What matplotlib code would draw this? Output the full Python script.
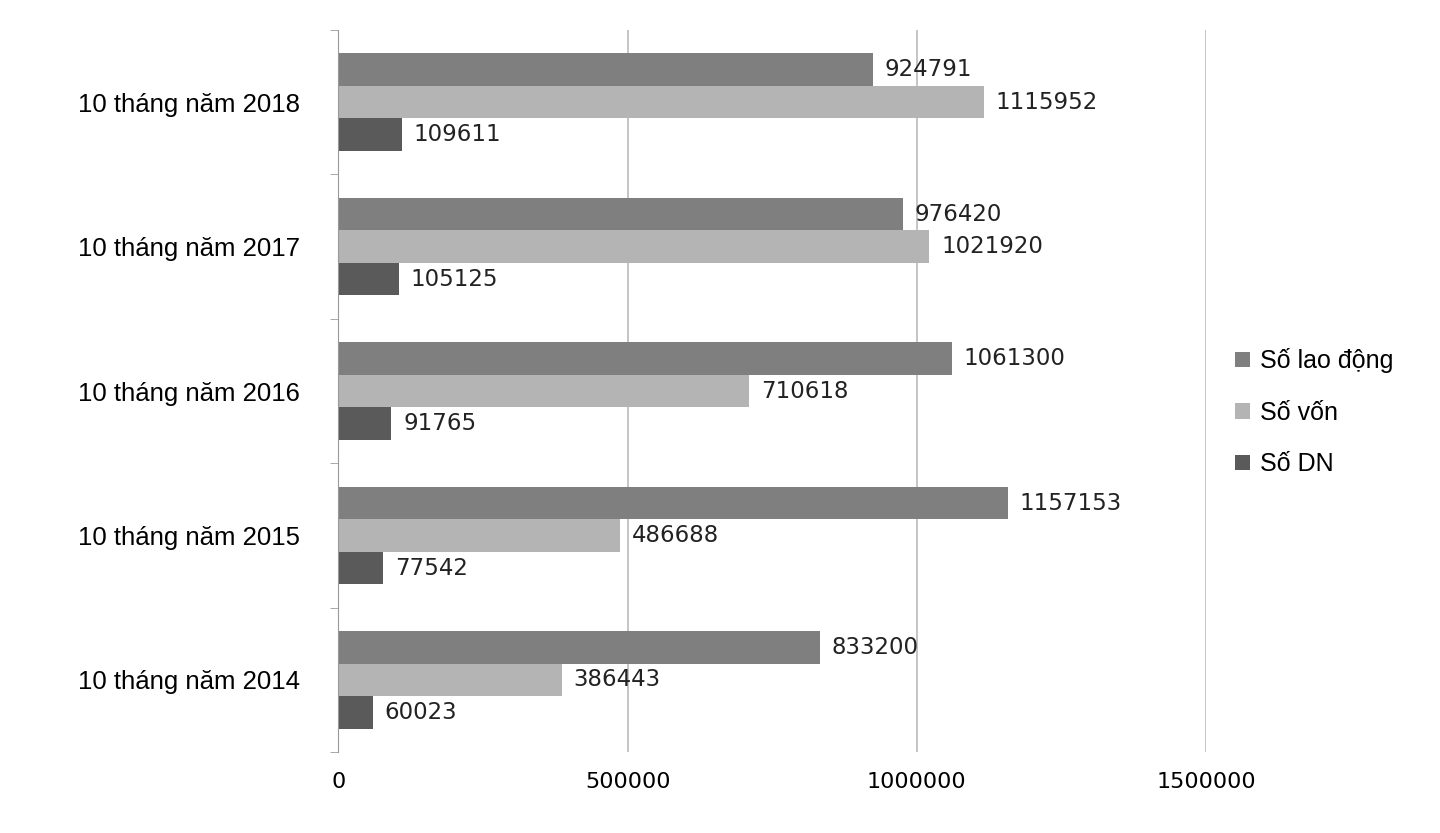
import matplotlib.pyplot as plt
import numpy as np

categories = ["10 tháng năm 2014", "10 tháng năm 2015", "10 tháng năm 2016",
              "10 tháng năm 2017", "10 tháng năm 2018"]
lao_dong = [833200, 1157153, 1061300, 976420, 924791]
von = [386443, 486688, 710618, 1021920, 1115952]
dn = [60023, 77542, 91765, 105125, 109611]
xticks = [0, 500000, 1000000, 1500000]

plt.rcParams['font.family'] = ['Liberation Sans', 'DejaVu Sans']
fig = plt.figure(figsize=(14.4, 8.33), dpi=100)
ax = fig.add_axes([0.235, 0.097, 0.6025, 0.867])

y = np.arange(len(categories))
h = 0.225
series = [(lao_dong, "#7f7f7f", "Số lao động", h),
          (von, "#b4b4b4", "Số vốn", 0),
          (dn, "#5a5a5a", "Số DN", -h)]
for vals, col, name, off in series:
    bars = ax.barh(y + off, vals, height=h, color=col, label=name, zorder=2)
    for b, v in zip(bars, vals):
        ax.text(v + 20000, b.get_y() + h / 2, str(v), va='center', ha='left',
                fontsize=16.5, family=['DejaVu Sans'], color='#222222')

ax.set_xlim(0, 1500000)
ax.set_ylim(-0.5, len(categories) - 0.5)
ax.set_xticks(xticks)
ax.set_xticklabels([str(t) for t in xticks], fontsize=16, family=['DejaVu Sans'])
ax.set_yticks(y)
ax.set_yticklabels(categories, fontsize=18.5)
ax.set_yticks(np.arange(-0.5, len(categories)), minor=True)
ax.tick_params(axis='y', which='major', length=0, pad=28)
ax.tick_params(axis='y', which='minor', length=6, color='#999999')
ax.tick_params(axis='x', length=0, pad=14)
ax.grid(axis='x', color='#bbbbbb', linewidth=1.2, zorder=0)
for s in ['top', 'right', 'bottom']:
    ax.spines[s].set_visible(False)
ax.spines['left'].set_color('#999999')

handles, labels = ax.get_legend_handles_labels()
fig.legend(handles, labels, loc='center left', bbox_to_anchor=(0.842, 0.505),
           frameon=False, fontsize=18, handlelength=0.6, handleheight=0.6,
           labelspacing=1.1, handletextpad=0.4)

fig.savefig("out.png", dpi=100)
